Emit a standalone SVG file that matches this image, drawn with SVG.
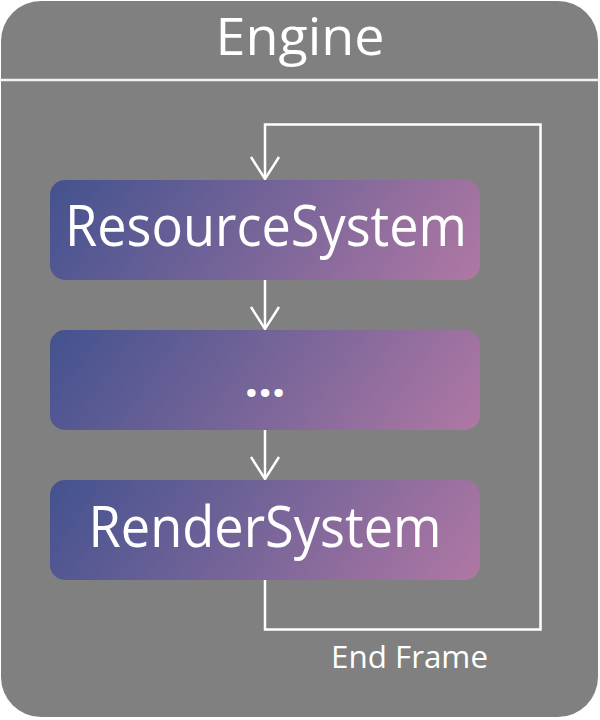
<svg xmlns="http://www.w3.org/2000/svg" width="600" height="720" viewBox="0 0 600 720">
  <defs>
    <linearGradient id="boxGrad">
      <stop offset="0" stop-color="#43528f"/>
      <stop offset="0.5" stop-color="#786599"/>
      <stop offset="1" stop-color="#b078a4"/>
    </linearGradient>
    <linearGradient id="grad1" href="#boxGrad" gradientUnits="userSpaceOnUse" x1="50" y1="180" x2="386" y2="415"/>
    <linearGradient id="grad2" href="#boxGrad" gradientUnits="userSpaceOnUse" x1="50" y1="330" x2="386" y2="565"/>
    <linearGradient id="grad3" href="#boxGrad" gradientUnits="userSpaceOnUse" x1="50" y1="480" x2="386" y2="715"/>
    <style>
      .label { fill: #ffffff; font-family: "Open Sans", "Noto Sans", "Liberation Sans", sans-serif; text-anchor: middle; }
      .conn { fill: none; stroke: #ffffff; stroke-width: 2.5; }
    </style>
  </defs>
  <rect width="600" height="720" fill="#ffffff"/>
  <g id="engine">
    <rect x="1" y="1" width="597" height="716" rx="40" ry="40" fill="#808080"/>
    <line x1="0" y1="80" x2="600" y2="80" stroke="#f2f2f2" stroke-width="2.5"/>
    <text class="label" x="300" y="55" font-size="51" textLength="169" lengthAdjust="spacingAndGlyphs">Engine</text>
  </g>
  <g id="connectors">
    <path class="conn" d="M265,580 V629.5 H540.5 V124.5 H265 V178"/>
    <path d="M251,157 L265,179 L279,157" class="conn"/>
    <line class="conn" x1="265" y1="280" x2="265" y2="327"/>
    <path d="M251,307 L265,329 L279,307" class="conn"/>
    <line class="conn" x1="265" y1="430" x2="265" y2="477"/>
    <path d="M251,457 L265,479 L279,457" class="conn"/>
    <text class="label" x="409.5" y="668" font-size="31" textLength="157" lengthAdjust="spacingAndGlyphs">End Frame</text>
  </g>
  <g id="resource-system">
    <rect fill="url(#grad1)" x="50" y="180" width="430" height="100" rx="15" ry="15"/>
    <text class="label" x="266" y="246" font-size="56" textLength="402" lengthAdjust="spacingAndGlyphs">ResourceSystem</text>
  </g>
  <g id="ellipsis">
    <rect fill="url(#grad2)" x="50" y="330" width="430" height="100" rx="15" ry="15"/>
    <text class="label" x="265" y="397" font-size="48" font-weight="bold">...</text>
  </g>
  <g id="render-system">
    <rect fill="url(#grad3)" x="50" y="480" width="430" height="100" rx="15" ry="15"/>
    <text class="label" x="265" y="547" font-size="56" textLength="353" lengthAdjust="spacingAndGlyphs">RenderSystem</text>
  </g>
</svg>
